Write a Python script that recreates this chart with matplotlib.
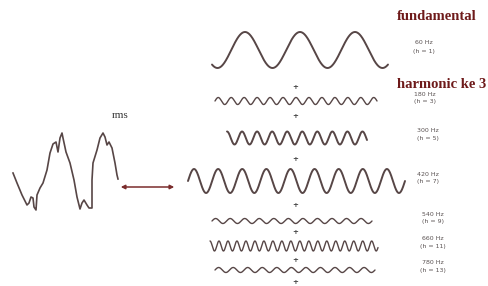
import numpy as np
import matplotlib.pyplot as plt

# Harmonic components (frequency, order, relative amplitude, visible cycles)
freqs = ['60 Hz', '180 Hz', '300 Hz', '420 Hz', '540 Hz', '660 Hz', '780 Hz']
orders = ['(h = 1)', '(h = 3)', '(h = 5)', '(h = 7)', '(h = 9)', '(h = 11)', '(h = 13)']
amps = [18, 3.5, 6.5, 12, 2.5, 5, 2.5]
cycles = [3.2, 12.5, 9.3, 9, 11, 18.7, 11]

# Distorted waveform
dist_x = [13, 17, 22, 27, 29, 31, 33, 34, 36, 37, 40, 43, 47, 50, 53, 56, 58, 60, 62, 63,
          66, 70, 74, 77, 80, 82, 84, 87, 89, 92, 92, 93, 97, 100, 103, 105, 107, 109,
          112, 115, 117, 118]
dist_y = [173, 183, 195, 205, 203, 197, 198, 207, 210, 195, 188, 183, 170, 153, 144, 142,
          152, 138, 133, 138, 152, 163, 180, 197, 209, 203, 200, 205, 208, 208, 180, 163,
          150, 138, 133, 137, 145, 142, 148, 163, 175, 179]

# Layout of each row: x start, x end, centre y, label x
x0s = [212, 215, 227, 188, 212, 210, 215]
x1s = [388, 377, 367, 405, 372, 378, 375]
yc = [50, 101, 138, 181, 221, 246, 270]
label_x = [424, 425, 428, 428, 433, 433, 433]
plus_y = [87, 116, 159, 205, 232, 260, 282]

line_col = '#574646'
label_col = '#5a5252'

fig = plt.figure(figsize=(4.89, 2.86), dpi=100)
ax = fig.add_axes([0, 0, 1, 1])
ax.set_xlim(0, 489)
ax.set_ylim(286, 0)
ax.axis('off')

phases = [-0.35, 0.0, 0.25, 0.0, 0.0, 0.25, 0.0]
for i in range(len(freqs)):
    t = np.linspace(0, 1, 800)
    x = x0s[i] + t * (x1s[i] - x0s[i])
    y = yc[i] - amps[i] * np.sin(2 * np.pi * (cycles[i] * t + phases[i]))
    lw = 1.4 if amps[i] > 5 else 1.0
    ax.plot(x, y, color=line_col, lw=lw, solid_capstyle='round')
    ax.text(label_x[i], yc[i] - 7 if i else yc[i] - 8, freqs[i], fontsize=4.5,
            color=label_col, ha='center', va='center')
    ax.text(label_x[i], yc[i] + 0.5 if i else yc[i] + 2, orders[i], fontsize=4.5,
            color=label_col, ha='center', va='center')

for py in plus_y:
    ax.text(295, py, '+', fontsize=5, fontweight='bold', color='#444444',
            ha='center', va='center')

# Distorted waveform and arrow
ax.plot(dist_x, dist_y, color=line_col, lw=1.2)
ax.annotate('', xy=(177, 187), xytext=(118, 187),
            arrowprops=dict(arrowstyle='<|-|>', color='#7a2c2c', lw=1.1,
                            mutation_scale=6))

ax.text(120, 115, 'rms', fontsize=8, family='Liberation Serif', color='#333333',
        ha='center', va='center')
ax.text(437, 17, 'fundamental', fontsize=10.5, family='Liberation Serif',
        fontweight='bold', color='#6e1a1a', ha='center', va='center')
ax.text(442, 85, 'harmonic ke 3', fontsize=10.5, family='Liberation Serif',
        fontweight='bold', color='#6e1a1a', ha='center', va='center')

plt.savefig('out.png', dpi=100)
